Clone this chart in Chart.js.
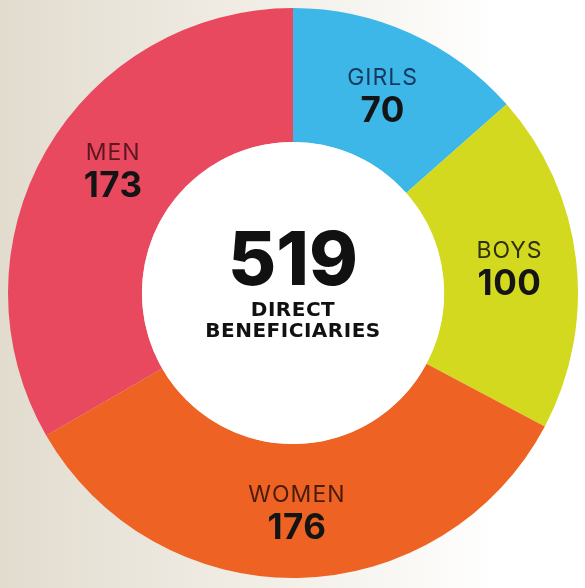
<!DOCTYPE html>
<html>
<head>
<meta charset="utf-8">
<script src="https://cdn.jsdelivr.net/npm/chart.js@4"></script>
<style>
  html, body { margin: 0; padding: 0; }
  body {
    width: 585px; height: 588px; overflow: hidden;
    background: linear-gradient(90deg, #e2dccf 0%, #ebe6dc 25%, #f6f4ef 60%, #ffffff 85%);
  }
  #wrap { position: relative; width: 585px; height: 588px; }
</style>
</head>
<body>
<div id="wrap"><canvas id="donut"></canvas></div>
<script>
(()=>{
    const labels = ['GIRLS', 'BOYS', 'WOMEN', 'MEN'];
    const values = [70, 100, 176, 173];
    const colors = ['#3db6e8', '#d2d91f', '#ee6324', '#e8495f'];
    const labelColors = ['#163a5e', '#2f300a', '#4a1a0a', '#5e1620'];
    const totalLabel = ['DIRECT', 'BENEFICIARIES'];

    const total = values.reduce((a, b) => a + b, 0);
    const font = 'Inter, "DejaVu Sans", sans-serif';

    // labels sitting in each slice
    const sliceLabels = {
        id: 'sliceLabels',
        afterDatasetsDraw(chart) {
            const ctx = chart.ctx;
            const meta = chart.getDatasetMeta(0);
            ctx.save();
            ctx.textAlign = 'center';
            ctx.textBaseline = 'middle';
            meta.data.forEach((arc, i) => {
                const p = arc.getCenterPoint();
                // the MEN label sits a little higher and to the right in the original
                const dx = i === 3 ? 9 : 0;
                const dy = i === 3 ? -15 : 0;
                ctx.letterSpacing = '1px';
                ctx.fillStyle = labelColors[i];
                ctx.font = '400 23px ' + font;
                ctx.fillText(labels[i], p.x + dx, p.y + dy - 16);
                ctx.letterSpacing = '0.5px';
                ctx.fillStyle = '#141414';
                ctx.font = '700 35px ' + font;
                ctx.fillText(String(values[i]), p.x + dx, p.y + dy + 17);
            });

            // centre total
            const cx = (chart.chartArea.left + chart.chartArea.right) / 2;
            const cy = (chart.chartArea.top + chart.chartArea.bottom) / 2;
            ctx.fillStyle = '#ffffff';
            ctx.beginPath();
            ctx.arc(cx, cy, meta.data[0].innerRadius, 0, Math.PI * 2);
            ctx.fill();
            ctx.fillStyle = '#111111';
            ctx.letterSpacing = '0px';
            ctx.font = '800 74px ' + font;
            ctx.fillText(String(total), cx, cy - 30);
            ctx.letterSpacing = '0.5px';
            ctx.font = 'bold 20px "DejaVu Sans", sans-serif';
            ctx.fillText(totalLabel[0], cx, cy + 18);
            ctx.fillText(totalLabel[1], cx, cy + 39);
            ctx.restore();
        }
    };

    new Chart(document.getElementById('donut'), {
        type: 'doughnut',
        data: {
            labels: labels,
            datasets: [
                {
                    data: values,
                    backgroundColor: colors,
                    borderWidth: 0
                }
            ]
        },
        options: {
            responsive: true,
            maintainAspectRatio: false,
            animation: false,
            cutout: '53%',
            layout: {
                padding: { left: 8, right: 7, top: 8, bottom: 10 }
            },
            plugins: {
                legend: { display: false },
                tooltip: { enabled: false }
            }
        },
        plugins: [sliceLabels]
    });
})()
</script>
</body>
</html>
